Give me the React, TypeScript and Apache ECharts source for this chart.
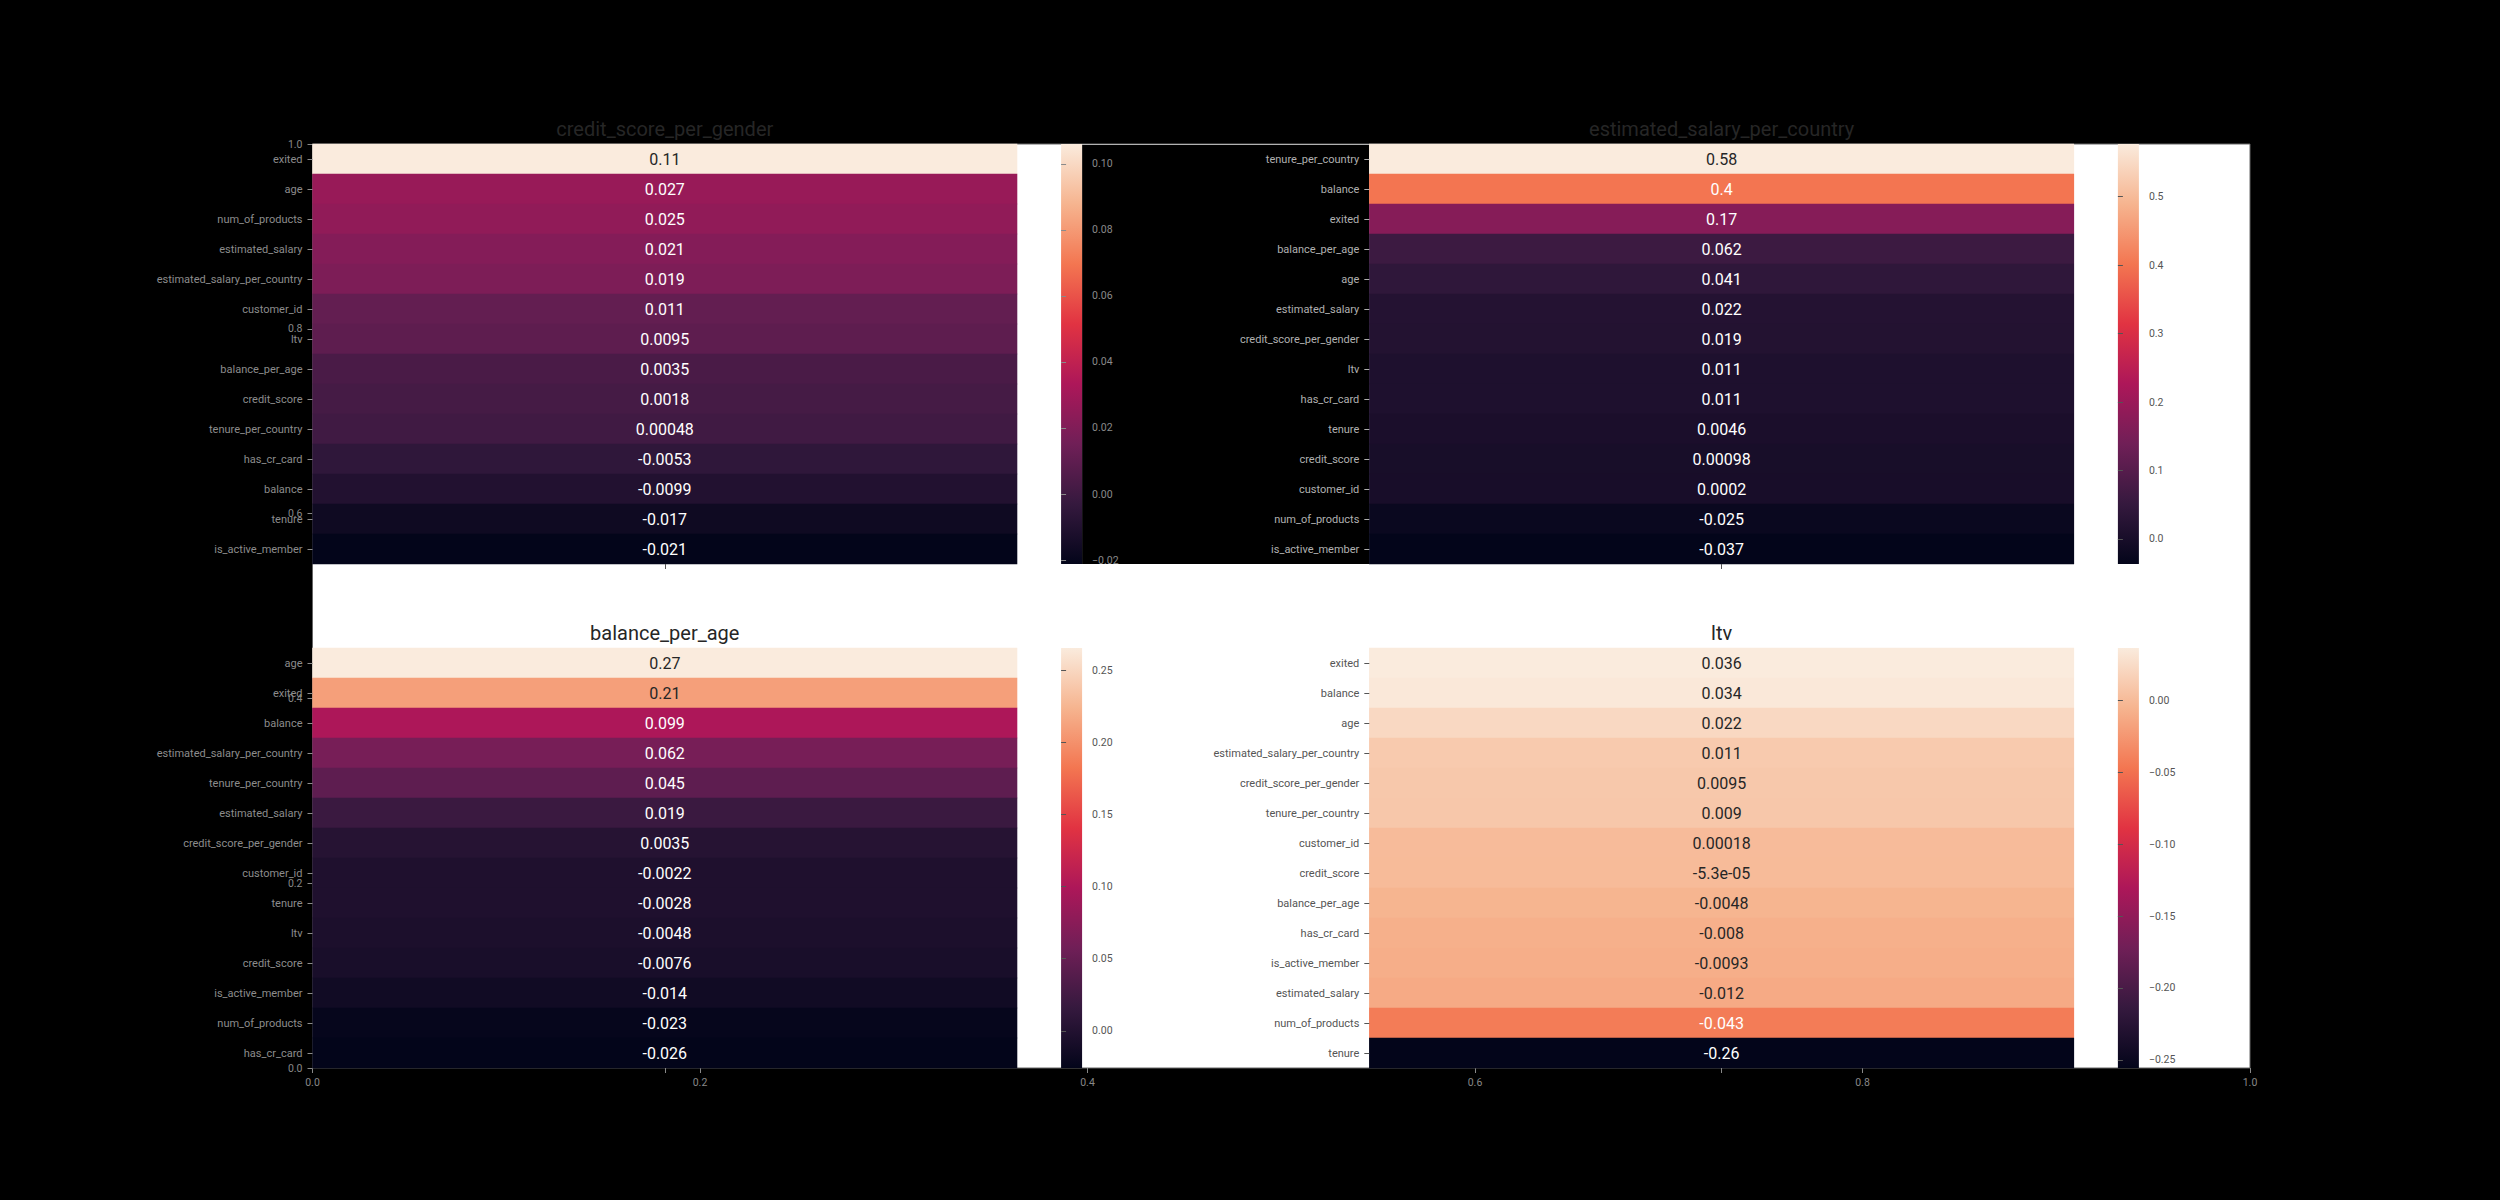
import React, { useEffect, useRef } from "react";
import * as echarts from "echarts";

// ---------------- data ----------------
const csgLabels = ["exited", "age", "num_of_products", "estimated_salary", "estimated_salary_per_country", "customer_id", "ltv", "balance_per_age", "credit_score", "tenure_per_country", "has_cr_card", "balance", "tenure", "is_active_member"];
const csgValues = [0.106, 0.027, 0.025, 0.021, 0.019, 0.011, 0.0095, 0.0035, 0.0018, 0.00048, -0.0053, -0.0099, -0.017, -0.0212];
const csgTicks = [-0.02, 0.0, 0.02, 0.04, 0.06, 0.08, 0.1];

const espcLabels = ["tenure_per_country", "balance", "exited", "balance_per_age", "age", "estimated_salary", "credit_score_per_gender", "ltv", "has_cr_card", "tenure", "credit_score", "customer_id", "num_of_products", "is_active_member"];
const espcValues = [0.577, 0.4, 0.17, 0.062, 0.041, 0.022, 0.019, 0.011, 0.011, 0.0046, 0.00098, 0.0002, -0.025, -0.0366];
const espcTicks = [0.0, 0.1, 0.2, 0.3, 0.4, 0.5];

const bpaLabels = ["age", "exited", "balance", "estimated_salary_per_country", "tenure_per_country", "estimated_salary", "credit_score_per_gender", "customer_id", "tenure", "ltv", "credit_score", "is_active_member", "num_of_products", "has_cr_card"];
const bpaValues = [0.2655, 0.21, 0.099, 0.062, 0.045, 0.019, 0.0035, -0.0022, -0.0028, -0.0048, -0.0076, -0.014, -0.023, -0.0258];
const bpaTicks = [0.0, 0.05, 0.1, 0.15, 0.2, 0.25];

const ltvLabels = ["exited", "balance", "age", "estimated_salary_per_country", "credit_score_per_gender", "tenure_per_country", "customer_id", "credit_score", "balance_per_age", "has_cr_card", "is_active_member", "estimated_salary", "num_of_products", "tenure"];
const ltvValues = [0.0362, 0.034, 0.022, 0.011, 0.0095, 0.009, 0.00018, -0.000053, -0.0048, -0.008, -0.0093, -0.012, -0.043, -0.2556];
const ltvTicks = [-0.25, -0.2, -0.15, -0.1, -0.05, 0.0];

const frameTicks = [0.0, 0.2, 0.4, 0.6, 0.8, 1.0];

// seaborn "rocket" colormap, evenly spaced stops (low -> high)
const ROCKET = ["#03051a", "#35193e", "#701f57", "#ad1759", "#e13342", "#f37651", "#f6b48f", "#faebdd"];

// ---------------- helpers ----------------
function hexToRgb(h: string) {
  const n = parseInt(h.slice(1), 16);
  return [(n >> 16) & 255, (n >> 8) & 255, n & 255];
}
function rocketAt(t: number) {
  const tt = Math.max(0, Math.min(1, t)) * (ROCKET.length - 1);
  const i = Math.min(ROCKET.length - 2, Math.floor(tt));
  const f = tt - i;
  const a = hexToRgb(ROCKET[i]);
  const b = hexToRgb(ROCKET[i + 1]);
  return a.map((c, k) => c + (b[k] - c) * f);
}
function luminance(rgb: number[]) {
  const lin = rgb.map((c) => {
    const s = c / 255;
    return s <= 0.03928 ? s / 12.92 : Math.pow((s + 0.055) / 1.055, 2.4);
  });
  return 0.2126 * lin[0] + 0.7152 * lin[1] + 0.0722 * lin[2];
}
function fmtG2(v: number) {
  if (v === 0) return "0";
  const e = Math.floor(Math.log10(Math.abs(v)));
  if (e < -4 || e >= 2) {
    const s = v.toExponential(1);
    const [m, ex] = s.split("e");
    const sign = ex[0] === "-" ? "-" : "+";
    const digits = ex.replace(/^[+-]/, "").padStart(2, "0");
    return m + "e" + sign + digits;
  }
  let s = v.toPrecision(2);
  if (s.indexOf(".") >= 0) s = s.replace(/0+$/, "").replace(/\.$/, "");
  return s;
}
function fmtTick(v: number, dec: number) {
  const s = Math.abs(v).toFixed(dec);
  return (v < -1e-12 ? "\u2212" : "") + s;
}

// ---------------- layout ----------------
const AX = { left: 312.5, top: 144, width: 1937.5, height: 924 };
const COLW = AX.width / 2.2;
const ROWH = AX.height / 2.2;

const panels = [
  { title: "credit_score_per_gender", labels: csgLabels, values: csgValues, ticks: csgTicks, dec: 2, col: 0, row: 0, labelColor: "#8c8c8c", cbarColor: "#8a8a8a", xTickColor: "#555" },
  { title: "estimated_salary_per_country", labels: espcLabels, values: espcValues, ticks: espcTicks, dec: 1, col: 1, row: 0, labelColor: "#b0b0b0", cbarColor: "#555", xTickColor: "#555" },
  { title: "balance_per_age", labels: bpaLabels, values: bpaValues, ticks: bpaTicks, dec: 2, col: 0, row: 1, labelColor: "#8c8c8c", cbarColor: "#555", xTickColor: "#888" },
  { title: "ltv", labels: ltvLabels, values: ltvValues, ticks: ltvTicks, dec: 2, col: 1, row: 1, labelColor: "#555", cbarColor: "#555", xTickColor: "#888" },
];

function geom(col: number, row: number) {
  const x0 = AX.left + col * 1.2 * COLW;
  const y0 = AX.top + row * 1.2 * ROWH;
  return {
    heat: { left: x0, top: y0, width: 0.8 * COLW, height: ROWH },
    cbar: { left: x0 + 0.85 * COLW, top: y0, width: ROWH / 20, height: ROWH },
  };
}

function buildOption() {
  const grids: any[] = [
    { left: AX.left, top: AX.top, width: AX.width, height: AX.height, show: true, backgroundColor: "#ffffff", borderColor: "#666", borderWidth: 1, z: 0 },
  ];
  const xAxes: any[] = [
    {
      gridIndex: 0, type: "value", min: 0, max: 1, interval: 0.2, position: "bottom", z: 2,
      axisLine: { show: false }, splitLine: { show: false },
      axisTick: { show: true, length: 5, lineStyle: { color: "#888" } },
      axisLabel: { color: "#888", fontSize: 10.5, margin: 9, customValues: frameTicks, formatter: (v: number) => v.toFixed(1) },
    },
  ];
  const yAxes: any[] = [
    {
      gridIndex: 0, type: "value", min: 0, max: 1, interval: 0.2, position: "left", z: 2,
      axisLine: { show: false }, splitLine: { show: false },
      axisTick: { show: true, length: 5, lineStyle: { color: "#888" } },
      axisLabel: { color: "#888", fontSize: 10.5, margin: 10, customValues: frameTicks, formatter: (v: number) => v.toFixed(1) },
    },
  ];
  const heatSeries: any[] = [];
  const cbarSeries: any[] = [];
  const visualMaps: any[] = [];
  const graphics: any[] = [];

  panels.forEach((p, i) => {
    const g = geom(p.col, p.row);
    const vmin = Math.min(...p.values);
    const vmax = Math.max(...p.values);
    grids.push({ ...g.heat });
    grids.push({ ...g.cbar });
    const hg = 1 + 2 * i;
    const cg = 2 + 2 * i;

    xAxes.push({
      gridIndex: hg, type: "category", data: [""], z: 4,
      axisLine: { show: false }, splitLine: { show: false },
      axisTick: { show: true, alignWithLabel: true, length: 5, lineStyle: { color: p.xTickColor } },
      axisLabel: { show: false },
    });
    yAxes.push({
      gridIndex: hg, type: "category", data: p.labels, inverse: true, z: 4,
      axisLine: { show: false }, splitLine: { show: false },
      axisTick: { show: true, alignWithLabel: true, length: 5, lineStyle: { color: p.labelColor } },
      axisLabel: { color: p.labelColor, fontSize: 11, margin: 10, interval: 0 },
    });
    xAxes.push({ gridIndex: cg, type: "value", min: 0, max: 1, show: false });
    yAxes.push({
      gridIndex: cg, type: "value", position: "right", min: vmin, max: vmax, z: 4,
      axisLine: { show: false }, splitLine: { show: false },
      axisTick: { show: true, length: 5, customValues: p.ticks, lineStyle: { color: p.cbarColor } },
      axisLabel: { color: p.cbarColor, fontSize: 10.5, margin: 10, customValues: p.ticks, formatter: (v: number) => fmtTick(v, p.dec) },
    });

    heatSeries.push({
      type: "heatmap", xAxisIndex: hg, yAxisIndex: hg, z: 3,
      label: { show: true, fontSize: 16, fontFamily: "Roboto" },
      data: p.values.map((v, r) => {
        const lum = luminance(rocketAt((v - vmin) / (vmax - vmin)));
        return { value: [0, r, v], label: { color: lum > 0.408 ? "#262626" : "#ffffff", formatter: fmtG2(v) } };
      }),
    });
    visualMaps.push({ type: "continuous", show: false, seriesIndex: i, dimension: 2, min: vmin, max: vmax, inRange: { color: ROCKET } });

    const stops = ROCKET.slice().reverse().map((c, k) => ({ offset: k / (ROCKET.length - 1), color: c }));
    cbarSeries.push({
      type: "custom", xAxisIndex: cg, yAxisIndex: cg, z: 3, silent: true,
      data: [[0, vmin, vmax]],
      renderItem: (params: any, api: any) => {
        const tl = api.coord([0, api.value(2)]);
        const br = api.coord([1, api.value(1)]);
        return {
          type: "rect",
          shape: { x: tl[0], y: tl[1], width: br[0] - tl[0], height: br[1] - tl[1] },
          style: { fill: new echarts.graphic.LinearGradient(0, 0, 0, 1, stops) },
        };
      },
    });

    graphics.push({
      type: "text", z: 10,
      x: g.heat.left + g.heat.width / 2,
      y: g.heat.top - 15,
      style: { text: p.title, fill: "#262626", fontSize: 20, fontFamily: "Roboto", align: "center", verticalAlign: "middle" },
    });
  });

  // dark gap in the top row between the first colorbar and the second heatmap
  const g0 = geom(0, 0);
  const g1 = geom(1, 0);
  const gapX = g0.cbar.left + g0.cbar.width;
  graphics.push({
    type: "rect", z: 1,
    shape: { x: gapX, y: AX.top + 1, width: g1.heat.left - gapX, height: ROWH - 1 },
    style: { fill: "#000000" },
  });

  return {
    animation: false,
    backgroundColor: "#000000",
    textStyle: { fontFamily: "Roboto" },
    grid: grids,
    xAxis: xAxes,
    yAxis: yAxes,
    visualMap: visualMaps,
    series: [...heatSeries, ...cbarSeries],
    graphic: { elements: graphics },
  };
}

export default function App() {
  const ref = useRef<HTMLDivElement>(null);
  useEffect(() => {
    if (!ref.current) return;
    const chart = echarts.init(ref.current, null, { renderer: "svg" });
    chart.setOption(buildOption() as any);
    return () => chart.dispose();
  }, []);
  return <div ref={ref} style={{ position: "absolute", left: 0, top: 0, width: 2500, height: 1200 }} />;
}
